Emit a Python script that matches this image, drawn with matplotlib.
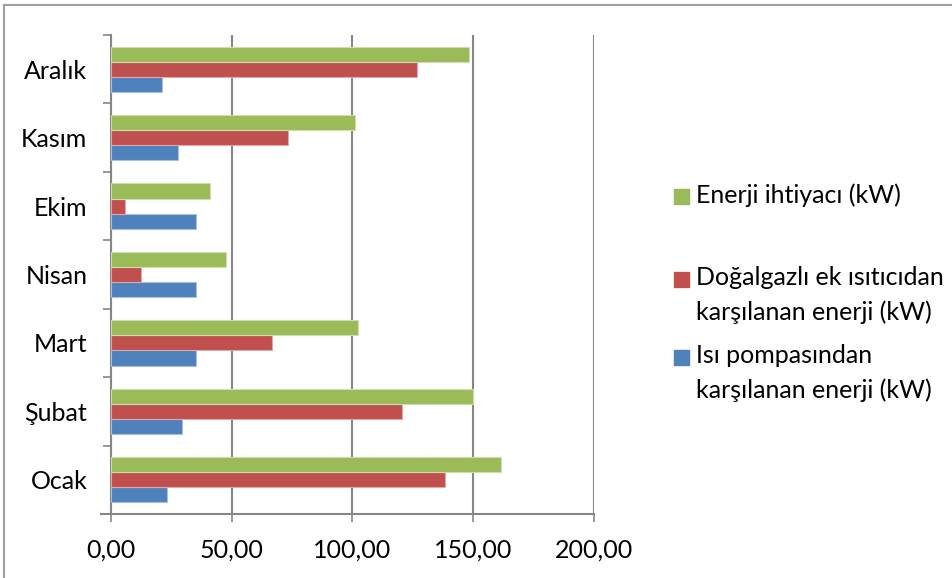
import numpy as np
import matplotlib.pyplot as plt
from matplotlib.patches import Rectangle
from matplotlib.lines import Line2D

plt.rcParams['font.family'] = ['Lato', 'DejaVu Sans']

aylar = ["Ocak", "Şubat", "Mart", "Nisan", "Ekim", "Kasım", "Aralık"]
isi_pompasi = [23.1, 29.3, 35.4, 35.4, 35.0, 27.8, 21.3]
dogalgaz = [138.3, 120.6, 66.7, 12.4, 5.9, 73.4, 126.7]
enerji_ihtiyaci = [161.5, 150.1, 102.2, 47.8, 41.2, 101.2, 148.1]

seriler = [
    ("Isı pompasından\nkarşılanan enerji (kW)", isi_pompasi, "#4F81BD", "#A7C0DE"),
    ("Doğalgazlı ek ısıtıcıdan\nkarşılanan enerji (kW)", dogalgaz, "#C0504D", "#E0A8A6"),
    ("Enerji ihtiyacı (kW)", enerji_ihtiyaci, "#9BBB59", "#CDDDAC"),
]
xticks = [0, 50, 100, 150, 200]
grid_renk = "#868686"
yazi = 18

W, H = 953, 578
fig = plt.figure(figsize=(W / 100, H / 100), dpi=100)
ax = fig.add_axes([111 / W, 1 - 514 / H, (594 - 111) / W, (514 - 35) / H])

y = np.arange(len(aylar))
h = 0.22
for k, (ad, vals, renk, kenar) in enumerate(seriler):
    ax.barh(y + (k - 1) * h, vals, height=h, color=renk,
            edgecolor=kenar, linewidth=0.8, zorder=3)

ax.set_xlim(0, 200)
ax.set_ylim(-0.5, len(aylar) - 0.5)
ax.set_xticks(xticks)
ax.set_xticklabels([f"{v:.2f}".replace(".", ",") for v in xticks])
ax.set_yticks(y)
ax.set_yticklabels(aylar)
ax.set_yticks(np.arange(-0.5, len(aylar), 1), minor=True)
ax.tick_params(axis='y', which='major', length=0, pad=17, labelsize=yazi)
ax.tick_params(axis='y', which='minor', length=6, width=1.2, color=grid_renk)
ax.tick_params(axis='x', length=6, width=1.2, color=grid_renk, pad=12, labelsize=yazi)
ax.grid(axis='x', color=grid_renk, linewidth=1.5, zorder=0)

for s in ['top', 'right']:
    ax.spines[s].set_visible(False)
for s in ['left', 'bottom']:
    ax.spines[s].set_color(grid_renk)
    ax.spines[s].set_linewidth(1.5)
# x ekseni çizgisi sola biraz taşar
ax.plot([-4, 0], [-0.5, -0.5], color=grid_renk, lw=1.5, clip_on=False, zorder=4)

# açıklama kutusu
lejant = [(seriler[2], 196), (seriler[1], 279), (seriler[0], 357)]
for (ad, vals, renk, kenar), yc in lejant:
    fig.patches.append(Rectangle((674 / W, 1 - (yc + 7.5) / H), 15 / W, 15 / H,
                                 transform=fig.transFigure, color=renk))
    fig.text(696 / W, 1 - (yc - 13) / H, ad, ha='left', va='top',
             fontsize=yazi, linespacing=1.58)

# çerçeve
fig.add_artist(Line2D([4 / W, 4 / W], [0, 1 - 5 / H], color="#A0A0A0", lw=1.5))
fig.add_artist(Line2D([4 / W, 1], [1 - 5 / H, 1 - 5 / H], color="#A0A0A0", lw=1.5))

fig.savefig("out.png", dpi=100)
